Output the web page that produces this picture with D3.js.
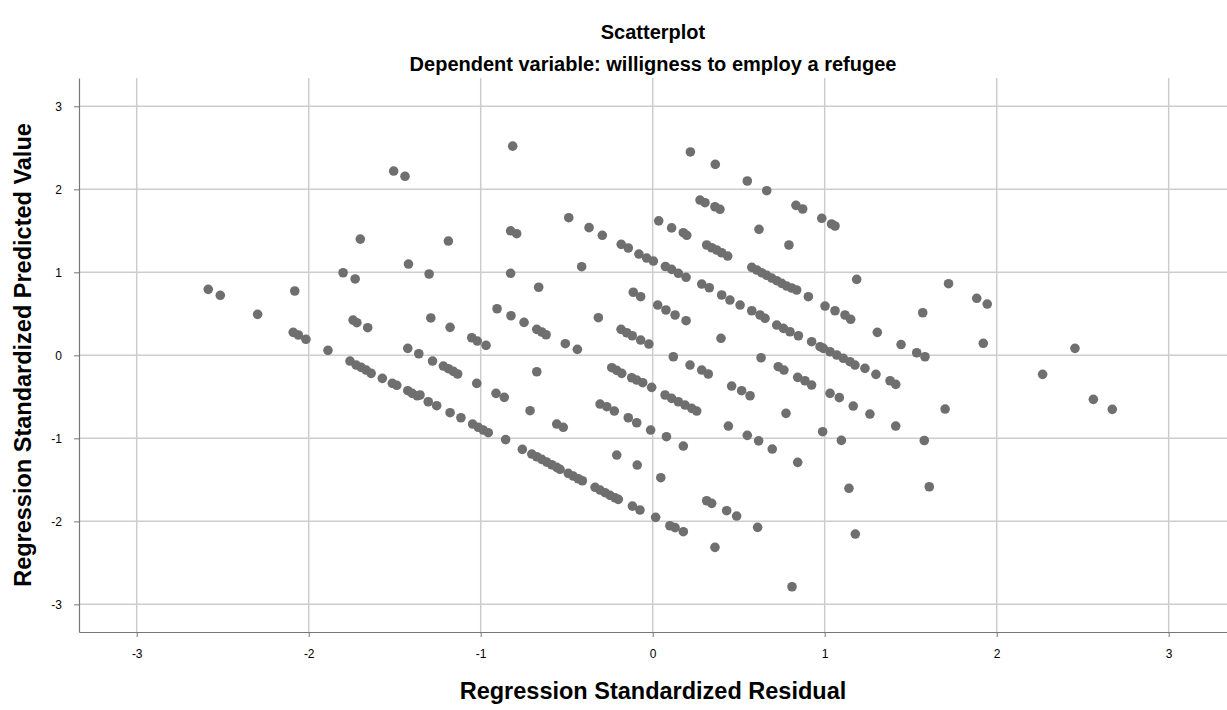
<!DOCTYPE html>
<html>
<head>
<meta charset="utf-8">
<script src="https://cdn.jsdelivr.net/npm/d3@7"></script>
<style>
  body { margin: 0; background: #fff; }
  text { font-family: "Liberation Sans", Arial, sans-serif; }
</style>
</head>
<body>
<div class="chart"></div>
<script>
// standardized residual (x) and standardized predicted value (y)
var residual = [
  -1.506, -1.44, -1.70, -1.42, -1.80, -1.73, -1.30,
  -2.584, -2.514, -2.297, -2.081, -1.29, -1.742, -1.72, -1.657, -2.09, -2.06, -2.016,
  -1.888, -1.424, -1.36, -1.28, -1.76, -1.724, -1.695, -1.666, -1.637, -1.572, -1.514,
  -1.488, -1.424, -1.398, -1.369, -1.305,
  -0.814, -0.488, -0.37, -0.293, -0.183, -0.142, -0.08, -0.035, 0.004, 0.074, 0.035, 0.11,
  -0.826, -0.791, -1.188, -0.826, -0.413, -0.663, -0.113,
  -0.07, 0.029, 0.077, -1.178, -0.905, -0.824, -0.748, -0.674, -0.645, -0.62, -0.508, -0.438,
  -0.316, -0.184, -0.151, -0.119, -0.07, -0.022, -1.052, -1.02, -0.969, -1.217, -1.188, -1.159,
  -1.134, -1.023, -0.911, -0.863, -0.674, -0.713, -0.558, -0.52, -0.238, -0.209, -0.18, -0.122,
  -0.093, -0.058, -0.006, -0.306, -0.267, -0.223, -0.142, -0.093, -0.012, 0.08, -1.353, -1.256,
  -1.178, -1.115, -1.047, -1.014, -0.985, -0.956, -0.855,
  -0.758, -0.703, -0.674, -0.645, -0.616, -0.587, -0.558, -0.539, -0.491, -0.462, -0.433, -0.409,
  -0.335, -0.306, -0.277, -0.248, -0.219, -0.2, -0.118, -0.074, 0.017, 0.1, -0.209, -0.09, 0.047,
  0.219, 0.364, 0.55, 0.663, 0.275, 0.304, 0.362, 0.391, 0.833, 0.872, 0.983, 1.04, 1.06,
  0.178, 0.198, 0.618, 0.792, 0.314, 0.343, 0.372, 0.401, 0.436, 0.11, 0.149, 0.194, 0.285, 0.329,
  0.576, 0.605, 0.634, 0.663, 0.692, 0.721, 0.75, 0.779, 0.808, 0.837, 1.186,
  0.401, 0.449, 0.508, 0.576, 0.624, 0.653, 0.905, 1.002, 1.06, 1.118, 1.151, 1.306, 1.444,
  0.13, 0.194, 0.397, 0.721, 0.76, 0.798, 0.847, 0.924, 0.973, 0.992, 1.031, 1.07, 1.108, 1.147,
  1.176, 1.234, 1.298, 1.38, 1.413, 0.12, 0.217, 0.285, 0.323, 0.63, 0.73, 0.763, 0.843, 0.885,
  0.924, 1.031, 1.085, 1.166, 1.263, 1.413, 0.072, 0.11, 0.149, 0.188, 0.227, 0.256, 0.459, 0.517,
  0.566, 0.775, 0.44, 0.55, 0.616, 0.988, 1.097,
  0.178, 0.695, 0.843, 1.141, 1.178, 0.314, 0.343, 0.43, 0.488, 0.13, 0.178, 0.61, 0.362, 0.81,
  1.72, 1.884, 1.945, 1.57, 1.922, 1.535, 1.583, 2.455, 2.267, 2.562, 2.672, 1.7, 1.579, 1.608
];
var predicted = [
  2.22, 2.157, 1.40, 1.10, 0.995, 0.92, 0.98,
  0.795, 0.723, 0.494, 0.775, 0.45, 0.425, 0.393, 0.333, 0.277, 0.245, 0.193,
  0.06, 0.084, 0.019, -0.069, -0.069, -0.117, -0.145, -0.177, -0.217, -0.277, -0.337,
  -0.361, -0.426, -0.458, -0.487, -0.559,
  2.52, 1.658, 1.538, 1.446, 1.337, 1.293, 1.22, 1.172, 1.136, 1.07, 1.62, 1.535,
  1.50, 1.465, 1.377, 0.988, 1.068, 0.82, 0.76,
  0.706, 0.606, 0.546, 0.337, 0.561, 0.477, 0.397, 0.313, 0.281, 0.248, 0.14, 0.072,
  0.453, 0.313, 0.272, 0.236, 0.184, 0.136, 0.212, 0.172, 0.12, -0.129, -0.161, -0.193,
  -0.225, -0.338, -0.458, -0.506, -0.198, -0.667, -0.828, -0.867, -0.149, -0.181, -0.217, -0.27,
  -0.298, -0.33, -0.386, -0.587, -0.619, -0.671, -0.752, -0.812, -0.9, -0.98, -0.478, -0.607,
  -0.691, -0.752, -0.828, -0.867, -0.9, -0.932, -1.015,
  -1.133, -1.189, -1.222, -1.253, -1.286, -1.318, -1.35, -1.373, -1.422, -1.454, -1.487, -1.511,
  -1.59, -1.623, -1.655, -1.687, -1.716, -1.735, -1.816, -1.864, -1.952, -2.053, -1.201, -1.322, -1.474,
  2.45, 2.30, 2.10, 1.983, 1.871, 1.839, 1.79, 1.759, 1.807, 1.763, 1.651, 1.582, 1.558,
  1.477, 1.446, 1.518, 1.329, 1.329, 1.296, 1.269, 1.236, 1.196, 1.036, 0.988, 0.94, 0.859, 0.814,
  1.06, 1.028, 0.995, 0.964, 0.931, 0.899, 0.867, 0.835, 0.811, 0.787, 0.915,
  0.727, 0.666, 0.606, 0.537, 0.486, 0.446, 0.706, 0.594, 0.537, 0.486, 0.434, 0.277, 0.13,
  0.486, 0.417, 0.205, 0.365, 0.325, 0.284, 0.236, 0.164, 0.104, 0.084, 0.043, 0.004, -0.036, -0.077,
  -0.117, -0.157, -0.229, -0.306, -0.35, -0.017, -0.117, -0.177, -0.225, -0.029, -0.137, -0.177, -0.265, -0.306,
  -0.358, -0.458, -0.51, -0.611, -0.707, -0.852, -0.478, -0.518, -0.559, -0.599, -0.639, -0.671, -0.37, -0.426,
  -0.487, -0.699, -0.852, -0.964, -1.03, -0.92, -1.025,
  -1.093, -1.129, -1.289, -1.602, -2.153, -1.752, -1.783, -1.872, -1.936, -2.075, -2.125, -2.072, -2.313, -2.788,
  0.863, 0.687, 0.618, 0.513, 0.145, 0.031, -0.017, 0.084, -0.229, -0.53, -0.651, -0.647, -1.026, -1.583
];
var xTicks = [-3, -2, -1, 0, 1, 2, 3];
var yTicks = [-3, -2, -1, 0, 1, 2, 3];

var points = residual.map((r, i) => ({x: r, y: predicted[i]}));

var width = 1227, height = 710;
var plot = {left: 79, right: 1227, top: 78, bottom: 632};

var svg = d3.select(`.chart`)
    .append(`svg`)
    .attr(`width`, width)
    .attr(`height`, height);

var xScale = d3.scaleLinear()
    .domain([-3.3355, 3.339])
    .range([plot.left, plot.right]);

var yScale = d3.scaleLinear()
    .domain([-3.333, 3.341])
    .range([plot.bottom, plot.top]);

// grid
svg.append(`g`)
    .selectAll(`line`)
    .data(xTicks)
    .enter()
    .append(`line`)
    .attr(`x1`, d => xScale(d)).attr(`x2`, d => xScale(d))
    .attr(`y1`, plot.top).attr(`y2`, plot.bottom)
    .style(`stroke`, `#cdcdcd`)
    .style(`stroke-width`, 1.5);

svg.append(`g`)
    .selectAll(`line`)
    .data(yTicks)
    .enter()
    .append(`line`)
    .attr(`x1`, plot.left).attr(`x2`, plot.right)
    .attr(`y1`, d => yScale(d)).attr(`y2`, d => yScale(d))
    .style(`stroke`, `#cdcdcd`)
    .style(`stroke-width`, 1.5);

// axes, plain hyphen for negatives like the original
var fmt = d => String(d);
var xAxis = svg.append(`g`)
    .attr(`transform`, `translate(0, ${plot.bottom})`)
    .call(d3.axisBottom(xScale).tickValues(xTicks).tickFormat(fmt).tickSize(5).tickSizeOuter(0).tickPadding(12));

var yAxis = svg.append(`g`)
    .attr(`transform`, `translate(${plot.left}, 0)`)
    .call(d3.axisLeft(yScale).tickValues(yTicks).tickFormat(fmt).tickSize(5).tickSizeOuter(0).tickPadding(12));

[xAxis, yAxis].forEach(a => {
    a.select(`.domain`).style(`stroke`, `#777`).style(`stroke-width`, 1.2);
    a.selectAll(`.tick line`).style(`stroke`, `#777`);
    a.selectAll(`.tick text`)
        .style(`font-family`, `"Liberation Sans", Arial, sans-serif`)
        .style(`font-size`, `12px`)
        .style(`fill`, `#000`);
});

// points
svg.append(`g`)
    .selectAll(`circle`)
    .data(points)
    .enter()
    .append(`circle`)
    .attr(`cx`, d => xScale(d.x))
    .attr(`cy`, d => yScale(d.y))
    .attr(`r`, 4.8)
    .style(`fill`, `#6f6f6f`);

// titles
var cx = (plot.left + plot.right) / 2;
svg.append(`text`)
    .attr(`x`, cx).attr(`y`, 39)
    .attr(`text-anchor`, `middle`)
    .style(`font-weight`, `bold`)
    .style(`font-size`, `20px`)
    .text(`Scatterplot`);

svg.append(`text`)
    .attr(`x`, cx).attr(`y`, 71)
    .attr(`text-anchor`, `middle`)
    .style(`font-weight`, `bold`)
    .style(`font-size`, `20px`)
    .text(`Dependent variable: willigness to employ a refugee`);

svg.append(`text`)
    .attr(`x`, cx).attr(`y`, 699)
    .attr(`text-anchor`, `middle`)
    .style(`font-weight`, `bold`)
    .style(`font-size`, `23.5px`)
    .text(`Regression Standardized Residual`);

svg.append(`text`)
    .attr(`transform`, `translate(31, ${(plot.top + plot.bottom) / 2}) rotate(-90)`)
    .attr(`text-anchor`, `middle`)
    .style(`font-weight`, `bold`)
    .style(`font-size`, `23.5px`)
    .text(`Regression Standardized Predicted Value`);
</script>
</body>
</html>
